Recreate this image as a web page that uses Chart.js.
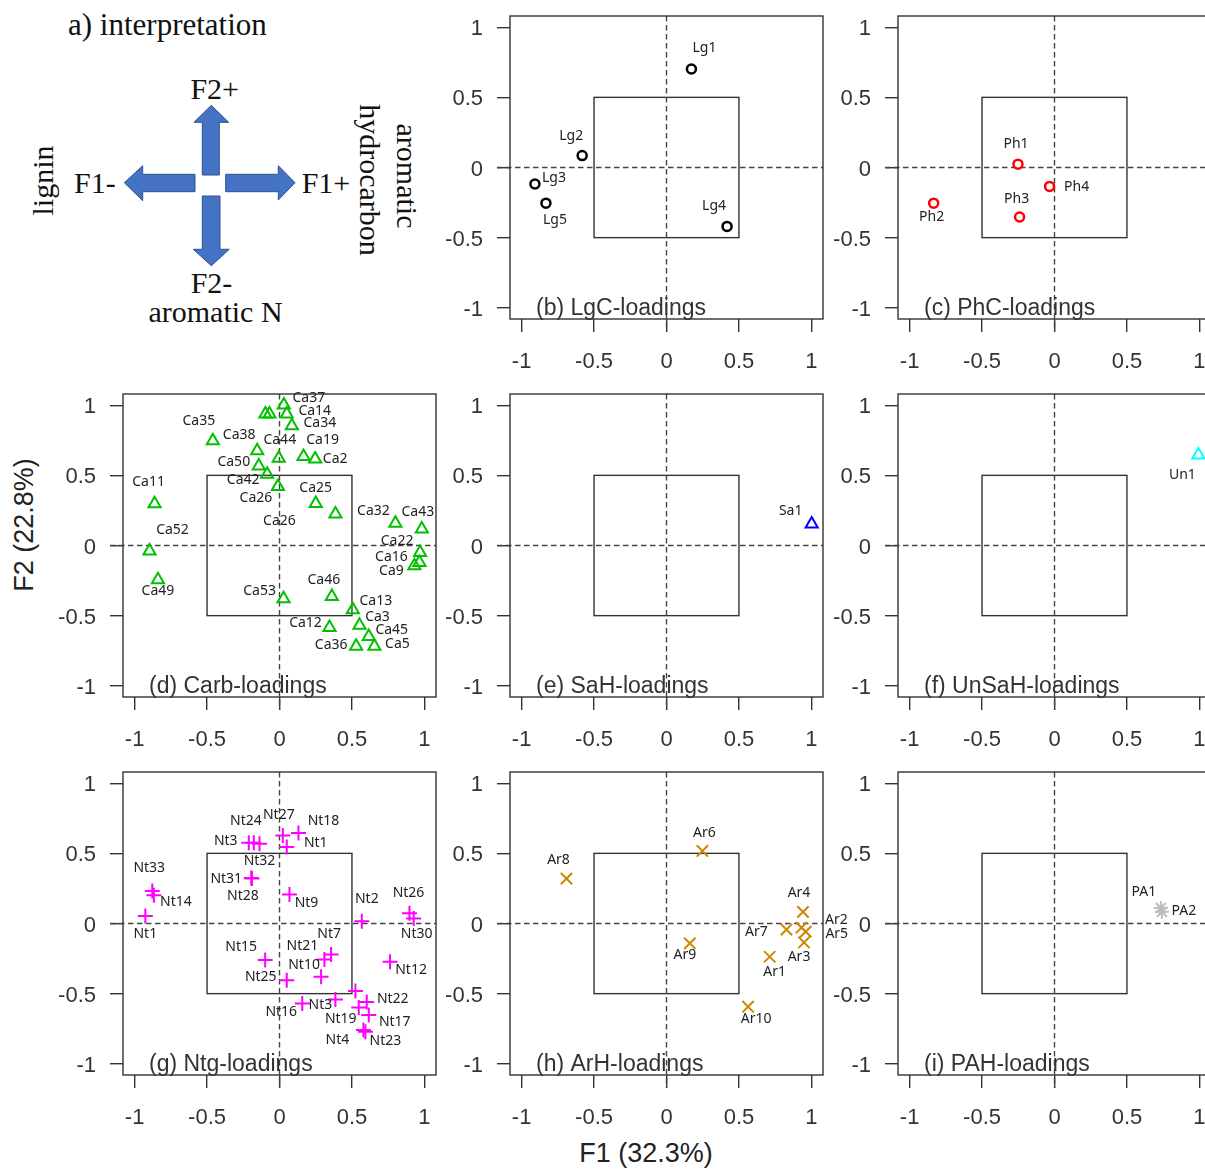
<!DOCTYPE html>
<html><head><meta charset="utf-8">
<script src="https://cdn.jsdelivr.net/npm/chart.js"></script>
<style>
html,body{margin:0;padding:0;background:#fff;overflow:hidden;}
#wrap{position:relative;width:1205px;height:1173px;overflow:hidden;background:#fff;}
canvas.panel{position:absolute;}
.axt{position:absolute;font-family:"Liberation Sans",Arial,sans-serif;font-size:27px;line-height:1;color:#222;white-space:nowrap;}
</style></head><body>
<div id="wrap">
<svg width="440" height="340" style="position:absolute;left:0;top:0" font-family="'Liberation Serif','Times New Roman',serif" fill="#111">
<text x="68" y="35" font-size="31">a) interpretation</text>
<g fill="#4472C4" stroke="#2F528F" stroke-width="1">
<polygon points="211.3,105.3 228.7,122.3 219.3,122.3 219.3,175 202.3,175 202.3,122.3 194,122.3"/>
<polygon points="124.3,182.7 142.7,165.7 142.7,174.3 195,174.3 195,191.7 142.7,191.7 142.7,200.7"/>
<polygon points="295,182.7 278.3,165.7 278.3,174.3 225.7,174.3 225.7,191.7 278.3,191.7 278.3,200"/>
<polygon points="211.3,265.7 229.3,249.3 220,249.3 220,196 202.3,196 202.3,249.3 193.3,249.3"/>
</g>
<text x="214.7" y="99.3" font-size="30" text-anchor="middle">F2+</text>
<text x="74" y="192.7" font-size="30">F1-</text>
<text x="301.7" y="192.7" font-size="30">F1+</text>
<text x="211.5" y="292.7" font-size="30" text-anchor="middle">F2-</text>
<text x="215.5" y="321.7" font-size="30" text-anchor="middle">aromatic N</text>
<text transform="translate(53,180.5) rotate(-90)" font-size="30" text-anchor="middle">lignin</text>
<text transform="translate(360,180) rotate(90)" font-size="30" text-anchor="middle">hydrocarbon</text>
<text transform="translate(397,176) rotate(90)" font-size="30" text-anchor="middle">aromatic</text>
</svg>
<div class="axt" style="left:24px;top:525px;transform:translate(-50%,-50%) rotate(-90deg);">F2 (22.8%)</div>
<div class="axt" style="left:646px;top:1153px;transform:translate(-50%,-50%);">F1 (32.3%)</div>
</div>
<script>
// ---------- data ----------
const tickValues = [-1, -0.5, 0, 0.5, 1];
const tickLabels = ['-1', '-0.5', '0', '0.5', '1'];
const boxHalf = 0.5;

const lgNames = ['Lg1','Lg2','Lg3','Lg4','Lg5'];
const lgF1 = [0.172,-0.582,-0.908,0.418,-0.832];
const lgF2 = [0.702,0.085,-0.118,-0.42,-0.254];

const phNames = ['Ph1','Ph2','Ph3','Ph4'];
const phF1 = [-0.252,-0.834,-0.241,-0.034];
const phF2 = [0.024,-0.254,-0.353,-0.135];

const carbNames = ['','','Ca37','Ca14','Ca34','Ca35','Ca38','Ca44','Ca19','Ca2','Ca50','Ca42','Ca26','Ca25','Ca26','Ca11','Ca52','Ca49','Ca32','Ca43','Ca22','Ca16','Ca9','Ca53','Ca46','Ca13','Ca12','Ca3','Ca45','Ca36','Ca5'];
const carbF1 = [-0.097,-0.069,0.03,0.05,0.085,-0.46,-0.154,-0.005,0.166,0.246,-0.143,-0.085,-0.011,0.25,0.386,-0.862,-0.897,-0.839,0.8,0.982,0.97,0.966,0.931,0.028,0.361,0.506,0.345,0.552,0.616,0.529,0.655];
const carbF2 = [0.937,0.937,1.001,0.937,0.854,0.747,0.676,0.622,0.634,0.617,0.567,0.508,0.42,0.299,0.225,0.297,-0.04,-0.244,0.159,0.117,-0.05,-0.121,-0.145,-0.379,-0.363,-0.458,-0.584,-0.569,-0.648,-0.719,-0.719];

const saNames = ['Sa1'];
const saF1 = [1.002];
const saF2 = [0.154];

const unNames = ['Un1'];
const unF1 = [0.993];
const unF2 = [0.646];

const ntgNames = ['Nt33','Nt14','Nt1','Nt3','Nt24','Nt32','Nt27','Nt18','Nt1','Nt31','Nt28','Nt9','Nt2','Nt26','Nt30','Nt15','Nt25','Nt7','Nt21','Nt10','Nt12','Nt16','Nt3','','Nt22','Nt19','Nt17','Nt4','Nt23'];
const ntgF1 = [-0.878,-0.867,-0.926,-0.212,-0.177,-0.138,0.023,0.131,0.05,-0.195,-0.19,0.069,0.568,0.897,0.926,-0.099,0.05,0.356,0.31,0.287,0.763,0.157,0.386,0.524,0.602,0.547,0.616,0.579,0.593];
const ntgF2 = [0.232,0.201,0.054,0.576,0.576,0.569,0.628,0.645,0.545,0.325,0.32,0.206,0.016,0.073,0.035,-0.261,-0.404,-0.221,-0.256,-0.38,-0.273,-0.57,-0.541,-0.482,-0.559,-0.599,-0.653,-0.76,-0.772];

const arNames = ['Ar8','Ar6','Ar9','Ar4','Ar7','Ar2','Ar5','Ar3','Ar1','Ar10'];
const arF1 = [-0.69,0.248,0.161,0.942,0.828,0.931,0.961,0.949,0.712,0.563];
const arF2 = [0.32,0.517,-0.142,0.083,-0.043,-0.03,-0.058,-0.135,-0.237,-0.593];

const paNames = ['PA1','PA2'];
const paF1 = [0.734,0.741];
const paF2 = [0.111,0.083];

// ---------- label placement (pixel offsets from marker) ----------
const lgLabelOffsets = [[13,-21],[-11,-20],[19,-6],[-13,-20],[9,17]];
const phLabelOffsets = [[-2,-20],[-2,14],[-3,-18],[27,1]];
const carbLabelOffsets = [[0,0],[0,0],[25,-7],[28,-3],[28,-3],[-14,-20],[-18,-16],[1,-18],[19,-17],[20,0],[-25,-4],[-24,6],[-22,11],[0,-16],[-56,7],[-6,-22],[23,-21],[0,11],[-22,-12],[-4,-17],[-23,-11],[-28,-5],[-23,5],[-24,-8],[-8,-16],[23,-9],[-24,-4],[18,-8],[23,-6],[-25,-1],[23,-2]];
const saLabelOffsets = [[-21,-13]];
const unLabelOffsets = [[-16,20]];
const ntgLabelOffsets = [[-3,-23],[22,7],[0,18],[-23,-2],[-8,-22],[0,17],[-4,-20],[25,-12],[29,-4],[-25,1],[-9,17],[17,8],[5,-22],[-1,-20],[3,15],[-24,-13],[-26,-3],[-2,-20],[-22,-13],[-17,-12],[21,8],[-21,9],[-15,6],[0,0],[26,-3],[-18,11],[26,7],[-26,10],[20,9]];
const arLabelOffsets = [[-8,-19],[2,-18],[-5,12],[-4,-19],[-30,2],[35,-8],[31,2],[-5,15],[5,15],[8,12]];
const paLabelOffsets = [[-17,-16],[22,-1]];

// ---------- layout ----------
const PLOT_W = 313, PLOT_H = 303;
const PAD_L = 100, PAD_T = 12, PAD_R = 40, PAD_B = 70;
const CW = PAD_L + PLOT_W + PAD_R, CH = PAD_T + PLOT_H + PAD_B;
const colLeft = [123, 510, 898];
const rowTop = [16, 394, 772];
const TICK_LEN = 13;
const LINE = '#333';

function makePanel(p) {
  const wrap = document.getElementById('wrap');
  const cv = document.createElement('canvas');
  cv.width = CW; cv.height = CH; cv.className = 'panel';
  cv.style.left = (colLeft[p.col] - PAD_L) + 'px';
  cv.style.top = (rowTop[p.row] - PAD_T) + 'px';
  cv.style.width = CW + 'px'; cv.style.height = CH + 'px';
  wrap.appendChild(cv);

  const decor = {
    id: 'decor' + p.col + p.row,
    beforeDatasetsDraw(chart) {
      const {ctx, chartArea: a, scales: {x, y}} = chart;
      ctx.save();
      ctx.strokeStyle = LINE; ctx.lineWidth = 1.4;
      const bx0 = x.getPixelForValue(-boxHalf), bx1 = x.getPixelForValue(boxHalf);
      const by0 = y.getPixelForValue(boxHalf), by1 = y.getPixelForValue(-boxHalf);
      ctx.strokeRect(bx0, by0, bx1 - bx0, by1 - by0);
      const x0 = x.getPixelForValue(0), y0 = y.getPixelForValue(0);
      ctx.strokeStyle = '#444'; ctx.lineWidth = 1.4;
      ctx.setLineDash([5.5, 3.5]);
      ctx.beginPath();
      ctx.moveTo(a.left - TICK_LEN, y0); ctx.lineTo(a.right, y0);
      ctx.moveTo(x0, a.top); ctx.lineTo(x0, a.bottom + TICK_LEN);
      ctx.stroke();
      ctx.setLineDash([]);
      ctx.strokeStyle = LINE; ctx.lineWidth = 1.4;
      ctx.strokeRect(a.left, a.top, a.right - a.left, a.bottom - a.top);
      ctx.fillStyle = '#333';
      ctx.font = '23px "Liberation Sans", Arial, sans-serif';
      ctx.textAlign = 'left'; ctx.textBaseline = 'alphabetic';
      ctx.fillText(p.title, a.left + 26, a.bottom - 4);
      ctx.restore();
    },
    afterDatasetsDraw(chart) {
      const {ctx, scales: {x, y}} = chart;
      ctx.save();
      ctx.fillStyle = '#222';
      ctx.font = '14px "Noto Sans", "Open Sans", sans-serif';
      ctx.textAlign = 'center'; ctx.textBaseline = 'middle';
      p.names.forEach((n, i) => {
        if (!n) return;
        const px = x.getPixelForValue(p.f1[i]) + p.offsets[i][0];
        const py = y.getPixelForValue(p.f2[i]) + p.offsets[i][1];
        ctx.fillText(n, px, py);
      });
      ctx.restore();
    }
  };

  const axisCommon = (isX) => ({
    type: 'linear', min: -1.08, max: 1.08,
    afterBuildTicks: s => { s.ticks = tickValues.map(v => ({value: v})); },
    afterFit: s => {
      if (isX) s.height = PAD_B; else s.width = PAD_L;
      s.paddingTop = 0; s.paddingBottom = 0; s.paddingLeft = 0; s.paddingRight = 0;
    },
    grid: {drawOnChartArea: false, drawTicks: true, tickLength: TICK_LEN, color: LINE, lineWidth: 1.4},
    border: {display: false},
    ticks: {
      autoSkip: false, maxRotation: 0, minRotation: 0,
      padding: isX ? 17 : 14,
      labelOffset: isX ? 0 : 2,
      color: '#333',
      font: {family: '"Liberation Sans", Arial, sans-serif', size: 22},
      callback: (v) => { const i = tickValues.indexOf(v); return i >= 0 ? tickLabels[i] : ''; }
    }
  });

  new Chart(cv, {
    type: 'scatter',
    data: {datasets: [{
      data: p.f1.map((v, i) => ({x: v, y: p.f2[i]})),
      pointStyle: p.style, pointRadius: p.radius, pointHoverRadius: p.radius,
      borderColor: p.color, backgroundColor: 'rgba(0,0,0,0)',
      pointBorderWidth: p.bw, borderWidth: p.bw
    }]},
    options: {
      responsive: false, animation: false, events: [],
      layout: {padding: {top: PAD_T, right: PAD_R, left: 0, bottom: 0}},
      plugins: {legend: {display: false}, tooltip: {enabled: false}},
      scales: {x: Object.assign(axisCommon(true), {position: 'bottom'}), y: Object.assign(axisCommon(false), {position: 'left'})}
    },
    plugins: [decor]
  });
}

const panels = [
  {col:1,row:0,title:'(b) LgC-loadings',names:lgNames,f1:lgF1,f2:lgF2,offsets:lgLabelOffsets,style:'circle',radius:4.5,bw:2.5,color:'#000000'},
  {col:2,row:0,title:'(c) PhC-loadings',names:phNames,f1:phF1,f2:phF2,offsets:phLabelOffsets,style:'circle',radius:4.5,bw:2.5,color:'#FF0000'},
  {col:0,row:1,title:'(d) Carb-loadings',names:carbNames,f1:carbF1,f2:carbF2,offsets:carbLabelOffsets,style:'triangle',radius:7,bw:2,color:'#00C000'},
  {col:1,row:1,title:'(e) SaH-loadings',names:saNames,f1:saF1,f2:saF2,offsets:saLabelOffsets,style:'triangle',radius:7,bw:2,color:'#0000FF'},
  {col:2,row:1,title:'(f) UnSaH-loadings',names:unNames,f1:unF1,f2:unF2,offsets:unLabelOffsets,style:'triangle',radius:7,bw:2,color:'#00FFFF'},
  {col:0,row:2,title:'(g) Ntg-loadings',names:ntgNames,f1:ntgF1,f2:ntgF2,offsets:ntgLabelOffsets,style:'cross',radius:7.5,bw:2,color:'#FF00FF'},
  {col:1,row:2,title:'(h) ArH-loadings',names:arNames,f1:arF1,f2:arF2,offsets:arLabelOffsets,style:'crossRot',radius:8,bw:2,color:'#CC8800'},
  {col:2,row:2,title:'(i) PAH-loadings',names:paNames,f1:paF1,f2:paF2,offsets:paLabelOffsets,style:'star',radius:7,bw:2,color:'#BEBEBE'}
];
panels.forEach(makePanel);
</script>
</body></html>
